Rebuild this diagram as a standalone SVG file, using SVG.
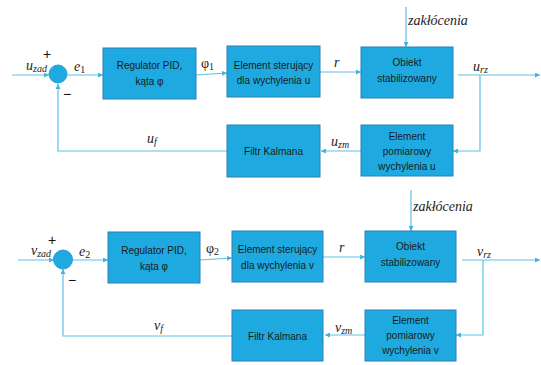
<svg xmlns="http://www.w3.org/2000/svg" width="541" height="365" viewBox="0 0 541 365">
<defs>
<marker id="ar" viewBox="0 0 6 6" refX="6" refY="3" markerWidth="5" markerHeight="5" orient="auto" markerUnits="userSpaceOnUse">
<path d="M0,0 L6,3 L0,6 z" fill="#3fb4e0"/>
</marker>
<style>
.box{fill:#1eaae0;stroke:#2b7fb4;stroke-width:1}
.sum{fill:#1eaae0;stroke:#2b9fd0;stroke-width:1}
.ln{fill:none;stroke:#5cc2e6;stroke-width:1.2}
.bt{font-family:"Liberation Sans",Arial,sans-serif;font-size:10px;fill:#1a1a1a;text-anchor:middle}
.m{font-family:"Liberation Serif","Times New Roman",serif;font-style:italic;font-size:14px;fill:#222}
.s{font-size:10px}
.up{font-style:normal}
.sg{font-family:"Liberation Sans",Arial,sans-serif;font-size:14px;fill:#111}
</style>
</defs>
<rect width="541" height="365" fill="#fff"/>

<g id="connectors">
<path class="ln" d="M12,75 H49" marker-end="url(#ar)"/>
<path class="ln" d="M67,75 H103" marker-end="url(#ar)"/>
<path class="ln" d="M196,75 L227,73" marker-end="url(#ar)"/>
<path class="ln" d="M320,72 H361" marker-end="url(#ar)"/>
<path class="ln" d="M406,7 V47" marker-end="url(#ar)"/>
<path class="ln" d="M458,75 H540" marker-end="url(#ar)"/>
<path class="ln" d="M480,75 V151 H453" marker-end="url(#ar)"/>
<path class="ln" d="M361,151 H321" marker-end="url(#ar)"/>
<path class="ln" d="M227,151 H58 V84" marker-end="url(#ar)"/>
<path class="ln" d="M18,260 H54" marker-end="url(#ar)"/>
<path class="ln" d="M72,260 H108" marker-end="url(#ar)"/>
<path class="ln" d="M200,260 L232,258" marker-end="url(#ar)"/>
<path class="ln" d="M323,257 H365" marker-end="url(#ar)"/>
<path class="ln" d="M411,190 V231" marker-end="url(#ar)"/>
<path class="ln" d="M462,260 H540" marker-end="url(#ar)"/>
<path class="ln" d="M483,260 V335 H456" marker-end="url(#ar)"/>
<path class="ln" d="M365,335 H325" marker-end="url(#ar)"/>
<path class="ln" d="M232,336 H63 V269" marker-end="url(#ar)"/>
</g>

<g id="sum1"><circle class="sum" cx="58" cy="74" r="9"/></g>
<g id="pid1"><rect class="box" x="103" y="48" width="93" height="51"/>
<text class="bt" x="149.5" y="69">Regulator PID,</text><text class="bt" x="149.5" y="85">kąta φ</text></g>
<g id="ster1"><rect class="box" x="227" y="46" width="93" height="51"/>
<text class="bt" x="273.5" y="69">Element sterujący</text><text class="bt" x="273.5" y="84">dla wychylenia u</text></g>
<g id="obiekt1"><rect class="box" x="361" y="47" width="92" height="51"/>
<text class="bt" x="407" y="66">Obiekt</text><text class="bt" x="407" y="82">stabilizowany</text></g>
<g id="pomiar1"><rect class="box" x="361" y="125" width="92" height="51"/>
<text class="bt" x="407" y="140">Element</text><text class="bt" x="407" y="155">pomiarowy</text><text class="bt" x="407" y="170">wychylenia u</text></g>
<g id="filtr1"><rect class="box" x="227" y="125" width="93" height="52"/>
<text class="bt" x="273.5" y="155">Filtr Kalmana</text></g>

<g id="labels1">
<text class="m" x="26" y="70">u<tspan class="s" dy="2">zad</tspan></text>
<text class="sg" x="43" y="59">+</text>
<text class="sg" x="63" y="99">−</text>
<text class="m" x="74" y="71">e<tspan class="s up" dy="2">1</tspan></text>
<text class="m up" x="201" y="68">φ<tspan class="s" dy="2">1</tspan></text>
<text class="m" x="334" y="67">r</text>
<text class="m" x="408" y="25">zakłócenia</text>
<text class="m" x="473" y="71">u<tspan class="s" dy="2">rz</tspan></text>
<text class="m" x="331" y="146">u<tspan class="s" dy="2">zm</tspan></text>
<text class="m" x="147" y="143">u<tspan class="s" dy="2">f</tspan></text>
</g>

<g id="sum2"><circle class="sum" cx="63" cy="259.5" r="9.5"/></g>
<g id="pid2"><rect class="box" x="108" y="232" width="92" height="51"/>
<text class="bt" x="154" y="254">Regulator PID,</text><text class="bt" x="154" y="270">kąta φ</text></g>
<g id="ster2"><rect class="box" x="232" y="231" width="91" height="51"/>
<text class="bt" x="277.5" y="253">Element sterujący</text><text class="bt" x="277.5" y="269">dla wychylenia v</text></g>
<g id="obiekt2"><rect class="box" x="365" y="231" width="91" height="51"/>
<text class="bt" x="410.5" y="250">Obiekt</text><text class="bt" x="410.5" y="266">stabilizowany</text></g>
<g id="pomiar2"><rect class="box" x="365" y="310" width="91" height="51"/>
<text class="bt" x="410.5" y="324">Element</text><text class="bt" x="410.5" y="339">pomiarowy</text><text class="bt" x="410.5" y="354">wychylenia v</text></g>
<g id="filtr2"><rect class="box" x="232" y="310" width="91" height="51"/>
<text class="bt" x="277.5" y="340">Filtr Kalmana</text></g>

<g id="labels2">
<text class="m" x="31" y="255">v<tspan class="s" dy="2">zad</tspan></text>
<text class="sg" x="48" y="245">+</text>
<text class="sg" x="68" y="285">−</text>
<text class="m" x="79" y="256">e<tspan class="s up" dy="2">2</tspan></text>
<text class="m up" x="206" y="253">φ<tspan class="s" dy="2">2</tspan></text>
<text class="m" x="339" y="252">r</text>
<text class="m" x="413" y="211">zakłócenia</text>
<text class="m" x="477" y="256">v<tspan class="s" dy="2">rz</tspan></text>
<text class="m" x="335" y="332">v<tspan class="s" dy="2">zm</tspan></text>
<text class="m" x="154" y="330">v<tspan class="s" dy="2">f</tspan></text>
</g>
</svg>
